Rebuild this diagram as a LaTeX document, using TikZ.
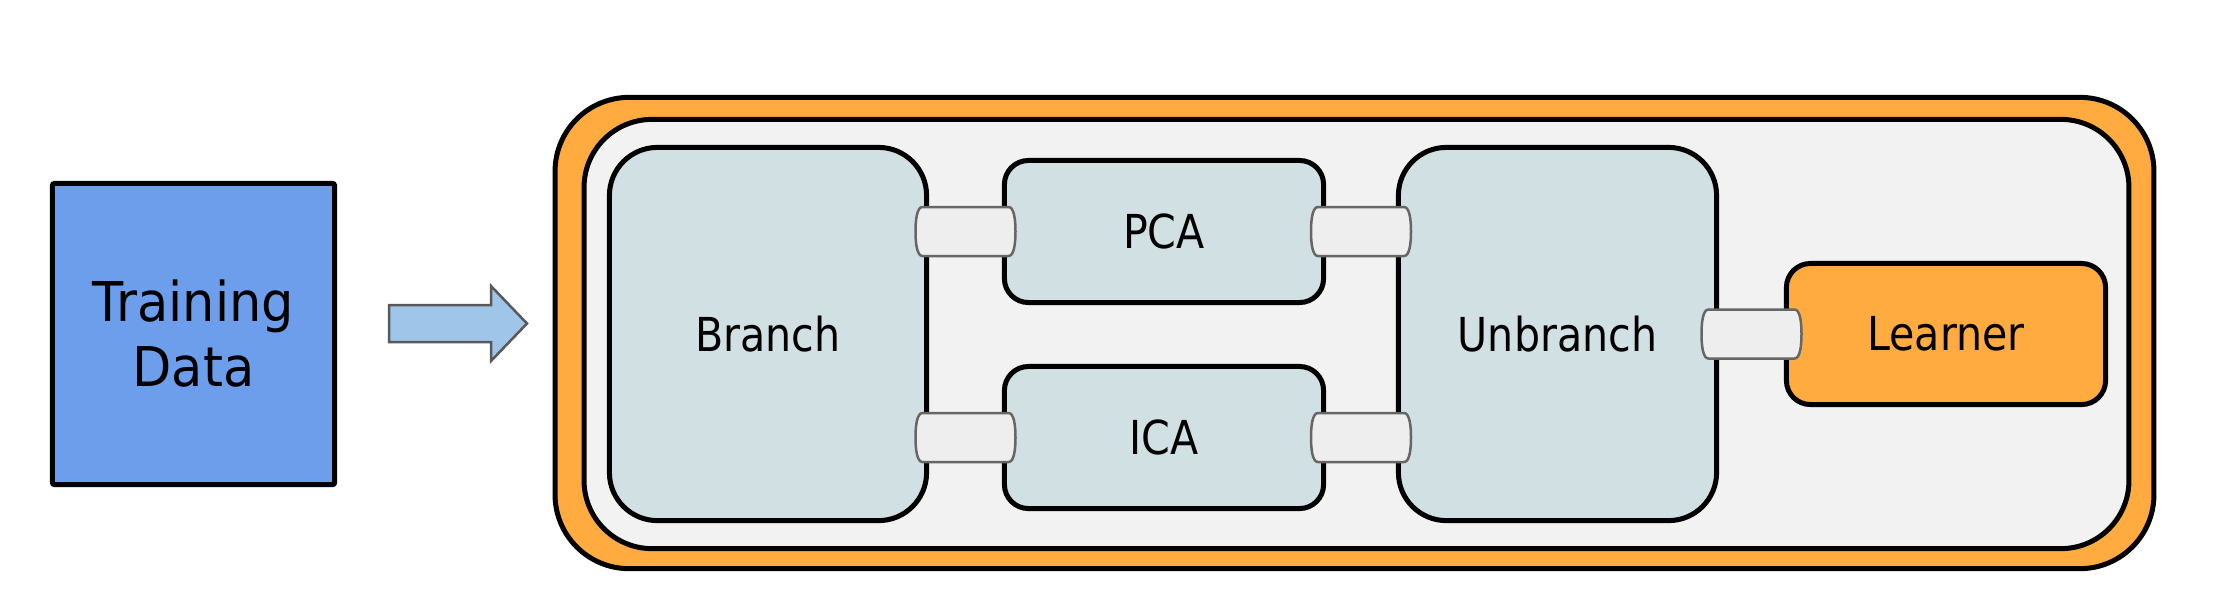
\documentclass[tikz,border=0pt]{standalone}
\usepackage{fontspec}
\setmainfont{DejaVu Sans}[FakeStretch=0.88]
\newfontfamily\trainfont{DejaVu Sans}[FakeStretch=0.93]
\usetikzlibrary{calc}
\definecolor{cblue}{HTML}{6D9EEB}
\definecolor{corange}{HTML}{FFAB40}
\definecolor{cgray}{HTML}{F2F2F2}
\definecolor{cbox}{HTML}{D0E0E3}
\definecolor{cpipe}{HTML}{EEEEEE}
\definecolor{cpipeline}{HTML}{666666}
\definecolor{carrow}{HTML}{9FC5E8}
\definecolor{carrowline}{HTML}{595959}
\tikzset{
  blk/.style={draw=black, line width=0.05cm, rectangle, inner sep=0pt,
    font=\fontsize{13.3}{16}\selectfont},
  stagebox/.style={blk, fill=cbox, rounded corners=0.48cm},
  smallbox/.style={blk, fill=cbox, rounded corners=0.24cm},
  pipe/.style={draw=cpipeline, fill=cpipe, line width=0.025cm},
  bigarrow/.style={draw=carrowline, fill=carrow, line width=0.025cm, line join=miter}
}
\newcommand\pipeat[1]{%
  \begin{scope}[shift={(#1)}]
    \draw[pipe] (-43,-24.5) -- (43,-24.5)
      .. controls (48.5,-24.5) and (50,-12) .. (50,0)
      .. controls (50,12) and (48.5,24.5) .. (43,24.5)
      -- (-43,24.5)
      .. controls (-48.5,24.5) and (-50,12) .. (-50,0)
      .. controls (-50,-12) and (-48.5,-24.5) .. (-43,-24.5) -- cycle;
  \end{scope}}
\begin{document}
\begin{tikzpicture}[x=0.01cm, y=-0.01cm]
\useasboundingbox (0,0) rectangle (2223,608);
% training data
\node[blk, fill=cblue, rounded corners=0.02cm, minimum width=2.82cm, minimum height=3.01cm,
  align=center, font=\trainfont\fontsize{15.6}{18.5}\selectfont] (train) at (193.5,334) {Training\\Data};
% arrow
\draw[bigarrow] (389,305) -- (491,305) -- (491,286) -- (527,323.5) -- (491,361) -- (491,342) -- (389,342) -- cycle;
% outer container
\node[blk, fill=corange, rounded corners=0.74cm, minimum width=15.98cm, minimum height=4.71cm] (outer) at (1354.5,333) {};
\node[blk, fill=cgray, rounded corners=0.68cm, minimum width=15.44cm, minimum height=4.29cm] (inner) at (1356.5,334) {};
% stages
\node[stagebox, minimum width=3.17cm, minimum height=3.73cm] (branch) at (768,334) {Branch};
\node[smallbox, minimum width=3.19cm, minimum height=1.42cm] (pca) at (1164,231.5) {PCA};
\node[smallbox, minimum width=3.19cm, minimum height=1.42cm] (ica) at (1164,437.5) {ICA};
\node[stagebox, minimum width=3.18cm, minimum height=3.73cm] (unbranch) at (1557.5,334) {Unbranch};
\node[blk, fill=corange, rounded corners=0.24cm, minimum width=3.19cm, minimum height=1.41cm] (learner) at (1946,334) {Learner};
% pipes
\coordinate (p1) at ($(branch.east |- pca.west)!0.5!(pca.west)$);
\coordinate (p2) at ($(branch.east |- ica.west)!0.5!(ica.west)$);
\coordinate (p3) at ($(pca.east)!0.5!(unbranch.west |- pca.east)$);
\coordinate (p4) at ($(ica.east)!0.5!(unbranch.west |- ica.east)$);
\coordinate (p5) at ($(unbranch.east)!0.5!(learner.west)$);
\pipeat{p1}
\pipeat{p2}
\pipeat{p3}
\pipeat{p4}
\pipeat{p5}
\end{tikzpicture}
\end{document}
